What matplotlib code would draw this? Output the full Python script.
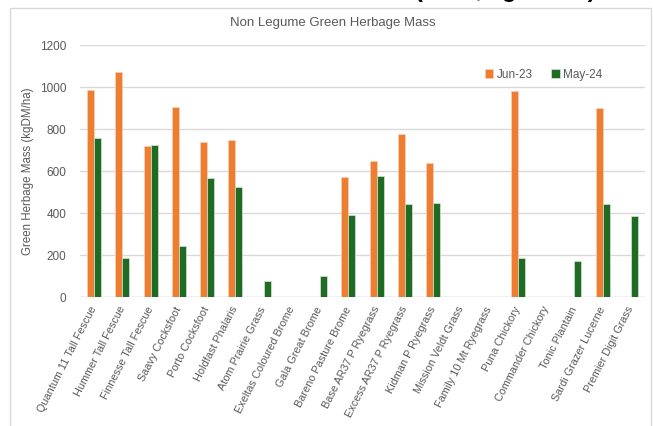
import matplotlib
matplotlib.use("Agg")
import matplotlib.pyplot as plt
import numpy as np
from matplotlib.patches import Rectangle

categories = [
    "Quantum 11 Tall Fescue", "Hummer Tall Fescue", "Finnesse Tall Fescue",
    "Saavy Cocksfoot", "Porto Cocksfoot", "Holdfast Phalaris",
    "Atom Prairie Grass", "Exeltas Coloured Brome", "Gala Great Brome",
    "Bareno Pasture Brome", "Base AR37 P Ryegrass", "Excess AR37 P Ryegrass",
    "Kidman P Ryegrass", "Mission Veldt Grass", "Family 10 Mt Ryegrass",
    "Puna Chickory", "Commander Chickory", "Tonic Plantain",
    "Sardi Grazer Lucerne", "Premier Digit Grass",
]
jun23 = [985, 1073, 719, 908, 741, 747, 0, 0, 0,
         574, 647, 776, 638, 0, 0, 982, 0, 0, 900, 0]
may24 = [760, 186, 724, 243, 568, 524, 79, 0, 103,
         392, 576, 443, 449, 0, 0, 187, 0, 171, 444, 389]
series_names = ["Jun-23", "May-24"]
yticks = [0, 200, 400, 600, 800, 1000, 1200]

ORANGE = "#ED7D31"
GREEN = "#1E6B24"
GREY_TXT = "#595959"
GRID = "#D9D9D9"

plt.rcParams['font.family'] = ['Liberation Sans Narrow', 'Liberation Sans', 'DejaVu Sans']

fig = plt.figure(figsize=(6.53, 4.26), dpi=100)
ax = fig.add_axes([80 / 653, 1 - 297.3 / 426, 565 / 653, 252 / 426])

x = np.arange(len(categories))
w = 0.245
ax.bar(x - w / 2, jun23, width=w, color=ORANGE, edgecolor="#F8D0B8", linewidth=0.5,
       label=series_names[0], zorder=3)
ax.bar(x + w / 2, may24, width=w, color=GREEN, edgecolor="#D8E6D8", linewidth=0.5,
       label=series_names[1], zorder=3)

ax.set_xlim(-0.5, len(categories) - 0.5)
ax.set_ylim(0, 1200)
ax.set_yticks(yticks)
ax.set_yticklabels([str(v) for v in yticks], fontsize=8.5, color=GREY_TXT)
ax.yaxis.grid(True, color=GRID, linewidth=1, zorder=0)
ax.tick_params(axis='y', length=0, pad=10)
ax.tick_params(axis='x', length=0, pad=7)
for s in ax.spines.values():
    s.set_visible(False)
ax.axhline(0, color=GRID, linewidth=1, zorder=2)

ax.set_xticks(x)
ax.set_xticklabels(categories, rotation=63, ha='right', va='center',
                   rotation_mode='anchor', fontsize=7.8, color=GREY_TXT)

ax.set_ylabel("Green Herbage Mass (kgDM/ha)", fontsize=8.3, color=GREY_TXT, labelpad=4)
fig.text(333 / 653, 1 - 23 / 426, "Non Legume Green Herbage Mass",
         ha='center', va='center', fontsize=9.5, color=GREY_TXT)

leg = ax.legend(loc='upper left', bbox_to_anchor=(474 / 653, 1 - 58 / 426),
                bbox_transform=fig.transFigure, ncol=2, frameon=False,
                fontsize=8.5, handlelength=0.7, handleheight=0.7,
                handletextpad=0.3, columnspacing=1.6)
for t in leg.get_texts():
    t.set_color(GREY_TXT)

# chart border
fig.patches.append(Rectangle((9.5 / 653, -0.05), (651 - 9.5) / 653, 1.05 - 8 / 426,
                             transform=fig.transFigure, fill=False,
                             edgecolor=GRID, linewidth=1))

# clipped slide title at the very top (only descenders visible)
fig.text(415 / 653, 1 + 3.5 / 426, "(2024, kgDM/ha)", ha='left', va='baseline',
         fontsize=17, fontweight='bold', color='black',
         family=['Liberation Sans', 'DejaVu Sans'])

fig.savefig("out.png", dpi=100, facecolor='white')
